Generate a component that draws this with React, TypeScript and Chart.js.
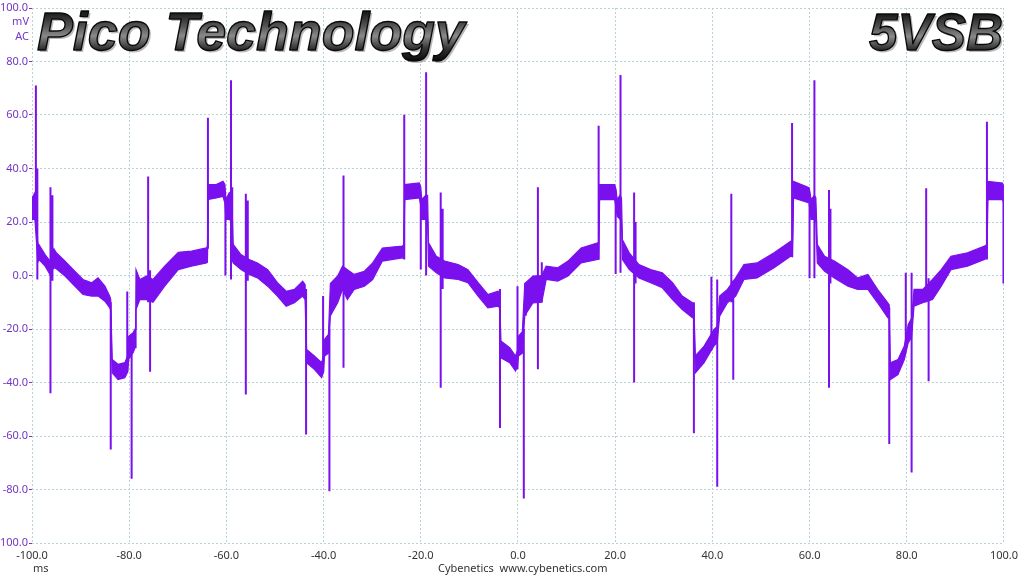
import React, { useEffect, useRef } from "react";
import { Chart, registerables } from "chart.js";

Chart.register(...registerables);

// ---- Data (time in ms, values in mV) ----
const bandTime = [
  -100, -99.4, -98.8, -98.6, -97.3, -96.3, -95.5, -95.0, -93.2, -91.2, -89.5, -87.7, -86.4, -85.0, -84.0, -83.8,
  -83.5, -82.3, -80.9, -80.3, -80.1, -79.2, -78.8, -78.6, -77.8, -76.4, -75.1, -72.7, -69.9, -67.2, -64.1, -63.9,
  -63.7, -62.1, -60.7, -60.3, -60.1, -59.4, -58.9, -58.6,
  -57.0, -55.3, -53.6, -51.5, -49.5, -47.7, -46.0, -44.3, -43.8, -43.5, -41.9, -40.4, -40.0, -39.8, -39.0, -38.6,
  -37.1, -36.1, -35.1, -33.7, -31.6, -29.9, -27.9, -23.8, -23.5, -23.3, -20.3, -20.0, -19.8, -19.0, -18.6, -18.4,
  -16.8, -15.1, -12.3, -10.3, -8.2, -6.2, -4.1, -3.8, -3.5, -1.7, -0.5, -0.1, 0.1, 0.9, 1.4, 3.1, 4.9, 5.8, 8.2,
  10.3, 13.0, 16.4, 16.6, 16.8, 19.9, 20.2, 20.4, 21.0, 21.3, 21.5,
  22.9, 24.9, 27.3, 29.7, 31.8, 33.8, 35.9, 36.2, 36.5, 38.3, 39.5, 40.3, 41.0, 41.5, 43.1, 44.8, 46.5, 49.2,
  52.7, 56.1, 56.5, 56.7, 59.9, 60.1, 60.3, 61.0, 61.3, 61.6,
  63.1, 65.1, 67.9, 69.9, 72.0, 74.0, 76.1, 76.4, 76.6, 78.2, 79.5, 80.3, 81.0, 81.5, 83.3, 85.3, 87.1, 89.1,
  92.5, 96.0, 96.5, 96.7, 99.7, 100,
];
const bandHigh = [
  29, 31, 12, 11.6, 7.8, 5.4, 10, 8.5, 5.4, 1.6, -1.5, -2.7, -0.9, -4, -7.7, -9,
  -31.4, -33.2, -32.6, -30, -22.7, -21.4, -20, 2.2, -1.5, -0.2, -1.5, 3.5, 8.7, 9.1, 10.3, 11,
  34, 34, 35.2, 34, 28.4, 31, 30, 11.6,
  7.8, 6, 4.7, 2.2, -2.7, -5.9, -5.2, -2.1, -3.4, -27.6, -30.1, -32.6, -30, -23.9, -22, -3,
  -0.2, 3.5, 2.2, 0.4, 1.6, 4.7, 10.3, 11, 11.5, 34, 34.6, 33, 28.4, 30, 30, 12.2,
  7.2, 5.4, 4.1, 2.2, -2.7, -7.1, -5.9, -6.5, -24.5, -27, -30.1, -28, -22.7, -21, -3, -0.2, 0, 3.5, 2.9,
  5.4, 10.3, 12.2, 12, 34, 34, 32, 28.4, 30, 29, 13.4,
  8.5, 4.1, 2.2, 1, -2.7, -7.7, -10.2, -11, -30.1, -26.4, -22.7, -20.2, -19, -7.7, -5.2, -0.9, 4.1, 4.7,
  8.5, 12.8, 13, 35.2, 32.8, 31, 28.4, 30, 29, 11.6,
  7.2, 5.4, 2.2, -0.9, 0.4, -5.2, -10.2, -11, -32.6, -31.4, -26.4, -18.3, -16, -5.2, -5.2, -1.5, 2.2, 7.2,
  8.5, 11, 11.5, 35.2, 34.6, 33,
];
const bandLow = [
  21, 21, 5, 6, 3.5, 0.4, 3, 2.5, -0.2, -4, -7.1, -7.7, -7.7, -9.6, -12.1, -13,
  -36.4, -38.9, -38.2, -36, -31.4, -28.9, -27, -12.7, -9, -9, -10, -4, 2.2, 3.5, 4.7, 5,
  28.4, 29, 29.6, 27, 21, 21, 20, 4.7,
  2.2, 0.4, -0.9, -4, -7.7, -11.5, -10.2, -7.7, -9, -32.6, -35.1, -38.2, -36, -30.1, -29, -15,
  -10.2, -5.2, -9, -5.2, -4, -1.5, 5.4, 6.6, 6.5, 28.4, 29, 26, 21, 21, 20, 3.5,
  1, -0.9, -1.5, -2.7, -7.7, -12.1, -11.5, -12, -30.8, -32.6, -35.7, -34, -30.1, -29, -15, -10.2, -10, -1.5, -2.1,
  -0.2, 4.7, 6, 6, 28.4, 28.4, 25, 22.2, 21, 20, 6,
  2.2, -0.9, -2.7, -4.6, -9, -12.7, -15.8, -16, -36.4, -32.6, -28.9, -26.4, -25, -15.2, -10.2, -7.7, -1.5, -0.9,
  2.9, 7.2, 7, 29, 27.1, 24, 21, 21, 20, 4.7,
  1.6, -0.9, -4, -5.2, -5.2, -10.2, -15.8, -16, -38.9, -37, -31.4, -25.2, -23, -11.5, -10.2, -9, -4, 2.2,
  3.5, 6, 6.5, 28.4, 28.4, 27,
];

const spikeTime = [
  -99.2, -98.9, -96.2, -95.8, -83.8, -80.4, -79.5, -76.1, -75.7, -63.8, -60.2, -59.05, -58.8,
  -56.0, -55.6, -43.6, -40.1, -38.8, -35.9, -23.4, -20.0, -18.9,
  -15.9, -15.5, -3.7, -0.1, 1.2, 1.6, 4.1, 4.9, 16.6, 20.1, 21.1,
  23.9, 24.2, 36.2, 39.8, 41.0, 43.9, 44.3, 56.4, 60.0, 61.0,
  64.0, 64.3, 76.4, 79.8, 81.0, 84.0, 84.5, 96.5, 99.9,
];
const spikeHigh = [
  71, 40, 33, 30, -10, -6, -22, 37, 2, 59, 29, 73, 33,
  30.6, 28, -5, -7.7, -20, 37.4, 60.1, 30, 76,
  31, 25, -5, -4, -20, -2.7, 33, 5, 56, 30, 75,
  31, 20, -10, -0.5, -1.5, 30.6, -2, 57, 27, 73,
  32, 25, -12, 1, 1, 32.6, -1, 57.5, 30,
];
const spikeLow = [
  20, -1.5, -44, -2, -65, -36, -76, -10, -36, 10, 0, -1.5, 5,
  -44.5, -2, -59.4, -36, -80.7, -34.5, 6, 2.2, 0,
  -42, -5, -57, -35, -83.4, -15, -35, -10, 6, 0.6, 1,
  -40, -3, -59, -28, -79, -10, -39, 7, -1, -1,
  -42, -3, -63, -28, -73.6, -10, -39.5, 6, -3,
];

const xTicks = [-100, -80, -60, -40, -20, 0, 20, 40, 60, 80, 100];
const yTicks = [-100, -80, -60, -40, -20, 0, 20, 40, 60, 80, 100];

const TITLE_LEFT = "Pico Technology";
const TITLE_RIGHT = "5VSB";
const Y_UNIT = ["mV", "AC"];
const X_UNIT = "ms";
const FOOTER = "Cybenetics  www.cybenetics.com";

const TRACE = "#7a10ee";
const GRID = "#b8d2da";
const YLABEL = "#7436c4";
const UI_FONT = "'Noto Sans', 'Open Sans', sans-serif";

function drawMetalText(ctx: CanvasRenderingContext2D, text: string, targetWidth: number, anchorX: number, baseline: number, align: "left" | "right") {
  const family = "'Liberation Sans', Arial, sans-serif";
  ctx.font = `italic bold 100px ${family}`;
  const w100 = ctx.measureText(text).width;
  const size = (100 * (targetWidth - 2)) / w100;
  ctx.font = `italic bold ${size}px ${family}`;
  ctx.textAlign = align;
  ctx.textBaseline = "alphabetic";
  const cap = size * 0.72;
  // soft shadow
  ctx.fillStyle = "rgba(140,140,140,0.6)";
  ctx.fillText(text, anchorX + 2, baseline + 2);
  const g = ctx.createLinearGradient(0, baseline - cap, 0, baseline + size * 0.2);
  g.addColorStop(0, "#151515");
  g.addColorStop(0.3, "#555");
  g.addColorStop(0.5, "#8a8a8a");
  g.addColorStop(0.75, "#333");
  g.addColorStop(1, "#0a0a0a");
  ctx.fillStyle = g;
  ctx.fillText(text, anchorX, baseline);
  ctx.lineWidth = 1.4;
  ctx.lineJoin = "round";
  ctx.strokeStyle = "#0a0a0a";
  ctx.strokeText(text, anchorX, baseline);
}

const textPlugin = {
  id: "extraTexts",
  afterDraw(chart: any) {
    const ctx = chart.ctx as CanvasRenderingContext2D;
    ctx.save();
    drawMetalText(ctx, TITLE_LEFT, 430, 37, 50, "left");
    drawMetalText(ctx, TITLE_RIGHT, 136, 1003, 50, "right");
    ctx.font = `11px ${UI_FONT}`;
    ctx.fillStyle = YLABEL;
    ctx.textAlign = "right";
    ctx.textBaseline = "middle";
    ctx.fillText(Y_UNIT[0], 29, 22);
    ctx.fillText(Y_UNIT[1], 29, 37);
    ctx.fillStyle = "#333";
    ctx.textAlign = "left";
    ctx.fillText(X_UNIT, 33, 569);
    ctx.fillText(FOOTER, 438, 569);
    ctx.restore();
  },
};

export default function App() {
  const ref = useRef<HTMLCanvasElement | null>(null);
  useEffect(() => {
    if (!ref.current) return;
    const band = bandTime.map((t, i) => ({ hi: { x: t, y: bandHigh[i] }, lo: { x: t, y: bandLow[i] } }));
    const spikes: { x: number; y: number | null }[] = [];
    spikeTime.forEach((t, i) => {
      spikes.push({ x: t, y: spikeLow[i] });
      spikes.push({ x: t, y: spikeHigh[i] });
      spikes.push({ x: t, y: null });
    });
    const chart = new Chart(ref.current, {
      type: "line",
      data: {
        datasets: [
          {
            data: band.map((b) => b.hi),
            borderColor: TRACE,
            borderWidth: 1.2,
            pointRadius: 0,
            fill: false,
            tension: 0,
          },
          {
            data: band.map((b) => b.lo),
            borderColor: TRACE,
            backgroundColor: TRACE,
            borderWidth: 1.2,
            pointRadius: 0,
            fill: "-1",
            tension: 0,
          },
          {
            data: spikes as any,
            borderColor: TRACE,
            borderWidth: 2,
            pointRadius: 0,
            fill: false,
            spanGaps: false,
            tension: 0,
          },
        ],
      },
      options: {
        animation: false,
        responsive: true,
        maintainAspectRatio: false,
        devicePixelRatio: 1,
        layout: { padding: { top: 8, right: 15, left: 0, bottom: 0 } },
        plugins: { legend: { display: false }, tooltip: { enabled: false } },
        events: [],
        scales: {
          x: {
            type: "linear",
            min: -100,
            max: 100,
            afterBuildTicks: (s: any) => {
              s.ticks = xTicks.map((v) => ({ value: v }));
            },
            afterFit: (s: any) => {
              s.height = 33;
            },
            grid: { color: GRID, lineWidth: 1, drawTicks: false },
            border: { display: false, dash: [2, 2] },
            ticks: {
              color: "#333",
              font: { family: UI_FONT, size: 11 },
              padding: 6,
              maxRotation: 0,
              autoSkip: false,
              callback: (v: any) => Number(v).toFixed(1),
            },
          },
          y: {
            type: "linear",
            min: -100,
            max: 100,
            afterBuildTicks: (s: any) => {
              s.ticks = yTicks.map((v) => ({ value: v }));
            },
            afterFit: (s: any) => {
              s.width = 32;
            },
            grid: { color: GRID, lineWidth: 1, drawTicks: true, tickLength: 3, tickColor: YLABEL },
            border: { display: false, dash: [2, 2] },
            ticks: {
              color: YLABEL,
              font: { family: UI_FONT, size: 11 },
              padding: 1,
              autoSkip: false,
              callback: (v: any) => Number(v).toFixed(1),
            },
          },
        },
      },
      plugins: [textPlugin],
    });
    return () => chart.destroy();
  }, []);
  return (
    <div style={{ position: "absolute", left: 0, top: 0, width: 1024, height: 576, background: "#fff" }}>
      <canvas ref={ref} />
    </div>
  );
}
